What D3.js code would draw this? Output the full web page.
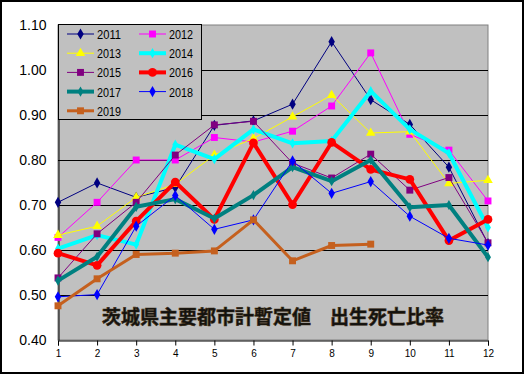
<!DOCTYPE html>
<html>
<head>
<meta charset="utf-8">
<script src="https://cdn.jsdelivr.net/npm/d3@7"></script>
<style>
  body { margin: 0; background: #fff; }
  svg { display: block; }
</style>
</head>
<body>
<div id="chart"></div>
<script>
// months 1..12
var months = [1, 2, 3, 4, 5, 6, 7, 8, 9, 10, 11, 12];
var yTicks = [0.40, 0.50, 0.60, 0.70, 0.80, 0.90, 1.00, 1.10];

// ratio per year
var s2011 = [0.706, 0.749, 0.717, 0.739, 0.877, 0.887, 0.924, 1.063, 0.934, 0.879, 0.784, 0.614];
var s2012 = [0.628, 0.706, 0.800, 0.800, 0.850, 0.840, 0.864, 0.920, 1.038, 0.857, 0.822, 0.709];
var s2013 = [0.633, 0.653, 0.717, 0.746, 0.811, 0.848, 0.896, 0.944, 0.860, 0.863, 0.748, 0.755];
var s2014 = [0.603, 0.633, 0.612, 0.834, 0.802, 0.868, 0.837, 0.842, 0.953, 0.868, 0.815, 0.650];
var s2015 = [0.538, 0.636, 0.706, 0.811, 0.878, 0.886, 0.793, 0.760, 0.813, 0.733, 0.761, 0.616];
var s2016 = [0.593, 0.566, 0.664, 0.751, 0.668, 0.838, 0.701, 0.839, 0.779, 0.757, 0.621, 0.668];
var s2017 = [0.532, 0.585, 0.696, 0.713, 0.670, 0.722, 0.784, 0.753, 0.800, 0.695, 0.700, 0.584];
var s2018 = [0.496, 0.501, 0.653, 0.721, 0.646, 0.667, 0.798, 0.726, 0.752, 0.675, 0.626, 0.611];
var s2019 = [0.476, 0.536, 0.590, 0.593, 0.598, 0.667, 0.576, 0.610, 0.613];

var series = [
  { name: "2011", values: s2011, color: "#000080", width: 1, marker: "diamond", size: 36 },
  { name: "2012", values: s2012, color: "#FF00FF", width: 1, marker: "square", size: 48 },
  { name: "2013", values: s2013, color: "#FFFF00", width: 1, marker: "triangle", size: 40 },
  { name: "2014", values: s2014, color: "#00FFFF", width: 4, marker: "diamond", size: 30 },
  { name: "2015", values: s2015, color: "#800080", width: 1, marker: "square", size: 48 },
  { name: "2016", values: s2016, color: "#FF0000", width: 4, marker: "circle", size: 60 },
  { name: "2017", values: s2017, color: "#008080", width: 4, marker: "diamond", size: 30 },
  { name: "2018", values: s2018, color: "#0000FF", width: 1, marker: "diamond", size: 36 },
  { name: "2019", values: s2019, color: "#C5601E", width: 3, marker: "square", size: 48 }
];

var W = 525, H = 375;
var plot = { left: 58, right: 488, top: 25, bottom: 340 };

var svg = d3.select("#chart").append("svg")
  .attr("width", W).attr("height", H);

// outer frame
svg.append("rect")
  .attr("x", 1).attr("y", 1).attr("width", W - 3).attr("height", H - 3)
  .attr("fill", "#fff").attr("stroke", "#000").attr("stroke-width", 2);

var x = d3.scaleLinear().domain([1, 12]).range([plot.left, plot.right]);
var y = d3.scaleLinear().domain([0.4, 1.1]).range([plot.bottom, plot.top]);

// plot area
svg.append("rect")
  .attr("x", plot.left).attr("y", plot.top)
  .attr("width", plot.right - plot.left).attr("height", plot.bottom - plot.top)
  .attr("fill", "#C0C0C0").attr("stroke", "#808080").attr("stroke-width", 1);

// gridlines
svg.append("g").selectAll("line")
  .data(yTicks.slice(1, -1)).enter()
  .append("line")
  .attr("x1", plot.left).attr("x2", plot.right)
  .attr("y1", function (d) { return Math.round(y(d)) + 0.5; })
  .attr("y2", function (d) { return Math.round(y(d)) + 0.5; })
  .attr("stroke", "#000").attr("stroke-width", 1);

// y axis
var yAxis = d3.axisLeft(y).tickValues(yTicks).tickSize(0).tickPadding(12)
  .tickFormat(d3.format(".2f"));
var gy = svg.append("g").attr("transform", "translate(" + (plot.left + 0.5) + ",0)").call(yAxis);
gy.select(".domain").attr("stroke", "#000");
gy.selectAll("text")
  .attr("font-family", "Liberation Sans, Arial, sans-serif")
  .attr("font-size", 14).attr("fill", "#000");

// x axis
var xAxis = d3.axisBottom(x).tickValues(months).tickSize(5).tickPadding(4);
var gx = svg.append("g").attr("transform", "translate(0," + (plot.bottom + 0.5) + ")").call(xAxis);
gx.select(".domain").attr("stroke", "#000");
gx.selectAll("line").attr("stroke", "#000");
gx.selectAll("text")
  .attr("font-family", "Liberation Sans, Arial, sans-serif")
  .attr("font-size", 10).attr("fill", "#000");

// title inside plot
svg.append("text")
  .attr("x", 273).attr("y", 324)
  .attr("text-anchor", "middle")
  .attr("font-family", "Noto Sans CJK JP, sans-serif")
  .attr("font-weight", "bold")
  .attr("font-size", 19)
  .attr("fill", "#111")
  .attr("stroke", "#3a2a10").attr("stroke-width", 0.6)
  .text("茨城県主要都市計暫定値　出生死亡比率");

var symbols = {
  diamond: d3.symbolDiamond,
  square: d3.symbolSquare,
  triangle: d3.symbolTriangle,
  circle: d3.symbolCircle
};

var line = d3.line()
  .x(function (d, i) { return x(months[i]); })
  .y(function (d) { return y(d); });

var lines = svg.append("g");
series.forEach(function (s) {
  var g = lines.append("g");
  g.append("path")
    .attr("d", line(s.values))
    .attr("fill", "none")
    .attr("stroke", s.color)
    .attr("stroke-width", s.width)
    .attr("stroke-linejoin", "round");
  g.selectAll("path.m")
    .data(s.values).enter()
    .append("path")
    .attr("class", "m")
    .attr("transform", function (d, i) { return "translate(" + x(months[i]) + "," + y(d) + ")"; })
    .attr("d", d3.symbol().type(symbols[s.marker]).size(s.size))
    .attr("fill", s.color);
});

// legend
var legend = svg.append("g");
legend.append("rect")
  .attr("x", 58.5).attr("y", 24.5).attr("width", 143).attr("height", 95)
  .attr("fill", "#C0C0C0").attr("stroke", "#000").attr("stroke-width", 1);

var item = legend.selectAll("g.item")
  .data(series).enter()
  .append("g").attr("class", "item")
  .attr("transform", function (d, i) {
    return "translate(" + (i % 2 ? 139 : 67) + "," + (34 + Math.floor(i / 2) * 19.2) + ")";
  });
item.append("line")
  .attr("x1", 0).attr("x2", 27)
  .attr("stroke", function (d) { return d.color; })
  .attr("stroke-width", function (d) { return d.width; });
item.append("path")
  .attr("transform", "translate(13.5,0)")
  .attr("d", function (d) { return d3.symbol().type(symbols[d.marker]).size(d.size)(); })
  .attr("fill", function (d) { return d.color; });
item.append("text")
  .attr("x", 30).attr("y", 5)
  .attr("font-family", "Liberation Sans, Arial, sans-serif")
  .attr("font-size", 13)
  .attr("textLength", 24)
  .attr("lengthAdjust", "spacingAndGlyphs")
  .attr("fill", "#000")
  .text(function (d) { return d.name; });
</script>
</body>
</html>
